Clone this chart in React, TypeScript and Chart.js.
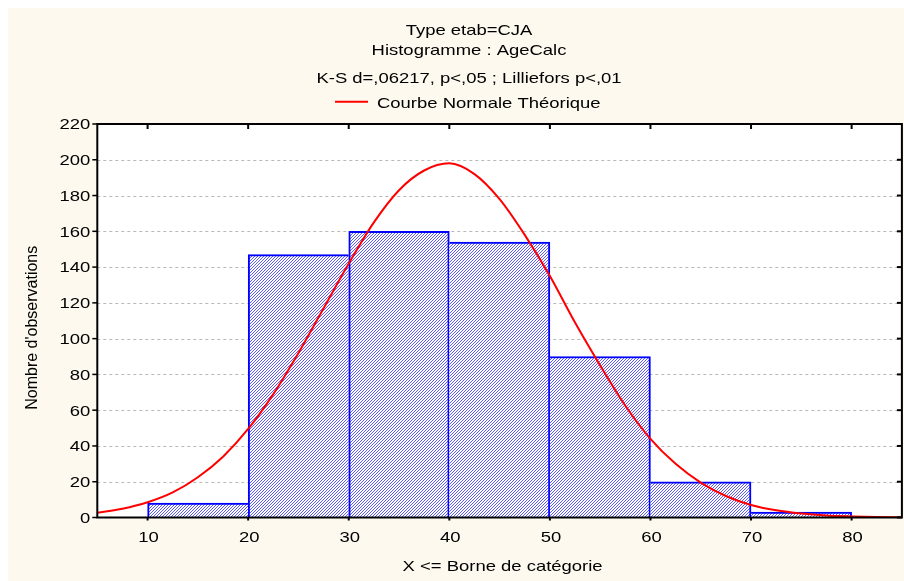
import { useEffect, useRef } from "react";
import { Chart, registerables } from "chart.js";

Chart.register(...registerables);

// Header and axis texts
const titleLines = ["Type etab=CJA", "Histogramme : AgeCalc", "K-S d=,06217, p<,05 ; Lilliefors p<,01"];
const legendLabel = "Courbe Normale Théorique";
const xAxisTitle = "X <= Borne de catégorie";
const yAxisTitle = "Nombre d'observations";

// Histogram classes (upper bound inclusive) and observed counts
const binLower = [10, 20, 30, 40, 50, 60, 70];
const binUpper = [20, 30, 40, 50, 60, 70, 80];
const counts = [8, 147, 160, 154, 90, 20, 3];

// Theoretical normal curve, expected counts per class width
const curveX = [5, 7.5, 10, 12.5, 15, 17.5, 20, 22.5, 25, 27.5, 30, 32.5, 35, 37.5, 40, 42.5, 45, 47.5, 50, 52.5, 55, 57.5, 60, 62.5, 65, 67.5, 70, 72.5, 75, 77.5, 80, 82.5, 85];
const curveY = [2.7, 4.9, 8.5, 14, 22.5, 34, 49.5, 69, 92, 117, 142, 165, 183, 194, 198, 192, 178, 158, 135, 109, 85, 62.5, 44, 30, 19.5, 12, 7, 4, 2.2, 1.1, 0.6, 0.3, 0.1];

// Axis ticks
const xTicks = [10, 20, 30, 40, 50, 60, 70, 80];
const yTicks = [0, 20, 40, 60, 80, 100, 120, 140, 160, 180, 200, 220];

const FAMILY = '"Liberation Sans", Arial, sans-serif';
const STRETCH = 1.23;

function drawText(
  ctx: CanvasRenderingContext2D,
  text: string,
  x: number,
  y: number,
  align: CanvasTextAlign,
  size = 15,
  rotate = false,
  stretch = STRETCH
) {
  ctx.save();
  ctx.translate(x, y);
  ctx.scale(stretch, 1);
  if (rotate) ctx.rotate(-Math.PI / 2);
  ctx.font = `${size}px ${FAMILY}`;
  ctx.fillStyle = "#000";
  ctx.textAlign = align;
  ctx.textBaseline = "alphabetic";
  ctx.fillText(text, 0, 0);
  ctx.restore();
}

function makeHatch(): CanvasPattern | string {
  const tile = document.createElement("canvas");
  tile.width = 3;
  tile.height = 3;
  const t = tile.getContext("2d");
  if (!t) return "#aaaaff";
  t.fillStyle = "#ffffff";
  t.fillRect(0, 0, 3, 3);
  t.fillStyle = "#5a5aff";
  t.fillRect(2, 0, 1, 1);
  t.fillRect(1, 1, 1, 1);
  t.fillRect(0, 2, 1, 1);
  const p = t.createPattern(tile, "repeat");
  return p ?? "#aaaaff";
}

const decorations = {
  id: "decorations",
  beforeDraw(chart: Chart) {
    const { ctx, width, height, chartArea: a } = chart;
    const ys = chart.scales.y;
    ctx.save();
    ctx.fillStyle = "#fdf9ef";
    ctx.fillRect(0, 0, width, height);
    ctx.fillStyle = "#ffffff";
    ctx.fillRect(a.left, a.top, a.right - a.left, a.bottom - a.top);
    ctx.strokeStyle = "#b8b8b8";
    ctx.lineWidth = 1;
    ctx.setLineDash([3, 3]);
    for (const v of yTicks) {
      if (v <= yTicks[0] || v >= yTicks[yTicks.length - 1]) continue;
      const py = Math.round(ys.getPixelForValue(v)) + 0.5;
      ctx.beginPath();
      ctx.moveTo(a.left, py);
      ctx.lineTo(a.right, py);
      ctx.stroke();
    }
    ctx.restore();
  },
  afterDatasetsDraw(chart: Chart) {
    const { ctx, chartArea: a } = chart;
    const xs = chart.scales.x;
    const ys = chart.scales.y;
    ctx.save();
    ctx.strokeStyle = "#000";
    ctx.lineWidth = 2;
    ctx.strokeRect(a.left, a.top, a.right - a.left, a.bottom - a.top);

    // y ticks: outside on the left, inside on the right
    for (const v of yTicks) {
      const py = ys.getPixelForValue(v);
      ctx.lineWidth = 1.5;
      ctx.beginPath();
      ctx.moveTo(a.left - 5, py);
      ctx.lineTo(a.left, py);
      ctx.stroke();
      ctx.lineWidth = 2;
      ctx.beginPath();
      ctx.moveTo(a.right - 5, py);
      ctx.lineTo(a.right, py);
      ctx.stroke();
      drawText(ctx, String(v), a.left - 7, py + 5.4, "right");
    }
    // x ticks: inside at the top, outside at the bottom
    for (const v of xTicks) {
      const px = xs.getPixelForValue(v);
      ctx.lineWidth = 2;
      ctx.beginPath();
      ctx.moveTo(px, a.top);
      ctx.lineTo(px, a.top + 5);
      ctx.stroke();
      ctx.beginPath();
      ctx.moveTo(px, a.bottom);
      ctx.lineTo(px, a.bottom + 3);
      ctx.stroke();
      drawText(ctx, String(v), px + 1, 533.7, "center");
    }

    // axis titles
    drawText(ctx, xAxisTitle, (a.left + a.right) / 2 + 3, 563, "center");
    drawText(ctx, yAxisTitle, 29.3, (a.top + a.bottom) / 2 + 7, "center", 16, true, 1.08);

    // header
    const cx = 461;
    drawText(ctx, titleLines[0], cx, 27, "center");
    drawText(ctx, titleLines[1], cx, 47, "center");
    drawText(ctx, titleLines[2], cx, 75, "center");

    // legend
    ctx.strokeStyle = "#ff0000";
    ctx.lineWidth = 2;
    ctx.beginPath();
    ctx.moveTo(327, 93.7);
    ctx.lineTo(360, 93.7);
    ctx.stroke();
    drawText(ctx, legendLabel, 369, 100, "left");
    ctx.restore();
  },
};

export default function App() {
  const canvasRef = useRef<HTMLCanvasElement | null>(null);

  useEffect(() => {
    const canvas = canvasRef.current;
    if (!canvas) return;
    const hatch = makeHatch();

    const barData = binLower.map((lo, i) => ({ x: (lo + binUpper[i]) / 2, y: counts[i] }));
    const lineData = curveX.map((x, i) => ({ x, y: curveY[i] }));

    const chart = new Chart(canvas, {
      type: "bar",
      data: {
        datasets: [
          {
            type: "line",
            label: legendLabel,
            data: lineData,
            borderColor: "#ff0000",
            borderWidth: 2,
            pointRadius: 0,
            cubicInterpolationMode: "monotone",
            fill: false,
            order: 0,
          } as any,
          {
            type: "bar",
            label: "AgeCalc",
            data: barData,
            backgroundColor: hatch as any,
            borderColor: "#0000ff",
            borderWidth: (c: any) => {
              const i = c.dataIndex;
              const h = counts[i];
              const prev = counts[i - 1];
              const next = counts[i + 1];
              return {
                top: 2,
                bottom: 0,
                left: prev === undefined || h > prev ? 2 : 0,
                right: next === undefined || h >= next ? 2 : 0,
              };
            },
            borderSkipped: false,
            barPercentage: 1,
            categoryPercentage: 1,
            order: 1,
          } as any,
        ],
      },
      options: {
        animation: false,
        responsive: false,
        devicePixelRatio: 1,
        layout: { padding: { left: 89.3, right: 2.1, top: 116, bottom: 63.5 } },
        scales: {
          x: {
            type: "linear",
            min: 5,
            max: 85,
            offset: false,
            display: false,
            afterBuildTicks: (scale: any) => {
              scale.ticks = xTicks.map((value) => ({ value }));
            },
          },
          y: {
            type: "linear",
            min: 0,
            max: 220,
            display: false,
            afterBuildTicks: (scale: any) => {
              scale.ticks = yTicks.map((value) => ({ value }));
            },
          },
        },
        plugins: {
          legend: { display: false },
          title: { display: false },
          tooltip: { enabled: false },
        },
      },
      plugins: [decorations],
    });

    return () => chart.destroy();
  }, []);

  return (
    <div style={{ position: "fixed", left: 8, top: 8, width: 896, height: 573 }}>
      <canvas ref={canvasRef} width={896} height={573} style={{ display: "block" }} />
    </div>
  );
}
